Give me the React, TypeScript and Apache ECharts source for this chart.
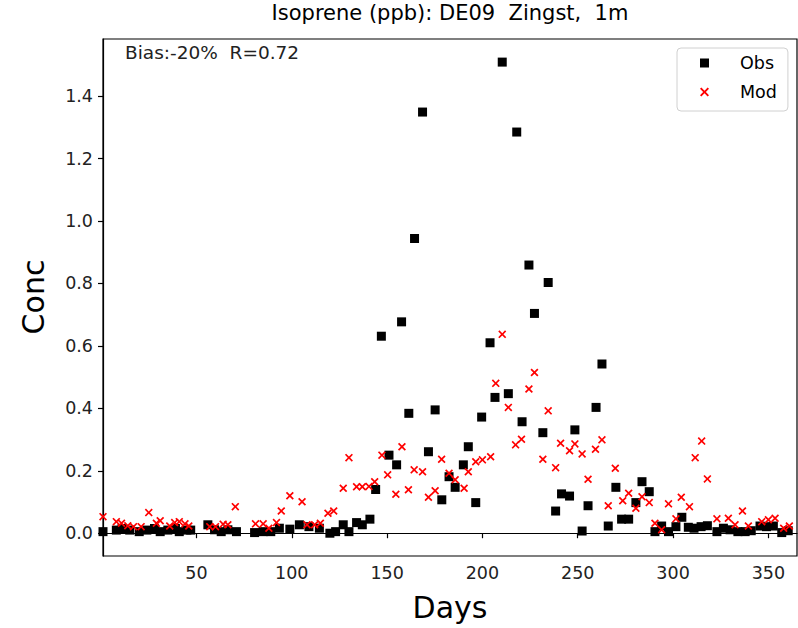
import React, { useEffect, useRef } from 'react';
import * as echarts from 'echarts';

const obsDays = [1, 8, 11, 15, 20, 24, 28, 31, 35, 39, 41, 45, 47,
  56, 59.5, 63, 66.5, 71, 80.5, 85, 89, 93.5, 99,
  104, 109, 114.5, 120, 123, 127, 130, 134, 137, 141, 144, 147, 151, 155, 157.6, 161.4, 164.4, 168.6,
  171.7, 175.2, 178.7, 182.5, 185.7, 190, 192.6, 196.5, 199.6, 204, 206.6, 210.4, 213.6, 218, 220.8,
  224.4, 227.3, 231.7, 234.5, 238.4, 241.5, 245.7, 248.5, 252.3, 255.4, 259.6, 262.7, 266, 270, 273,
  276.7, 280.5, 283.7, 287.5, 290.5, 294, 297.6, 301.5, 304.6, 308, 311, 314.7, 318, 323, 326.4, 329.9,
  334, 337.8, 341, 345.6, 349, 352.6, 357, 360.4];
const obsVals = [0.005, 0.01, 0.015, 0.01, 0.005, 0.01, 0.015, 0.005, 0.01, 0.015, 0.005, 0.01, 0.01,
  0.027, 0.011, 0.005, 0.011, 0.005, 0.002, 0.005, 0.005, 0.016, 0.013,
  0.027, 0.021, 0.016, 0.0, 0.005, 0.027, 0.005, 0.034, 0.027, 0.045, 0.14, 0.631, 0.25, 0.219, 0.677, 0.384, 0.944, 1.349,
  0.261, 0.395, 0.107, 0.181, 0.147, 0.219, 0.277, 0.098, 0.372, 0.61, 0.435, 1.509, 0.447, 1.285, 0.357,
  0.859, 0.704, 0.322, 0.803, 0.071, 0.126, 0.119, 0.331, 0.007, 0.088, 0.403, 0.542, 0.023, 0.147, 0.045,
  0.045, 0.098, 0.165, 0.133, 0.005, 0.023, 0.005, 0.021, 0.051, 0.019, 0.016, 0.021, 0.024, 0.005, 0.016, 0.011,
  0.005, 0.005, 0.008, 0.023, 0.021, 0.023, 0.002, 0.008];

const modDays = [1, 8, 10.7, 14, 17, 21, 25, 29, 31, 36, 38.6, 41, 44, 46,
  57, 60, 64, 66.5, 70.4, 81, 85, 88, 92, 94.5, 99,
  105.4, 108, 112, 115, 119, 122, 127, 130, 134, 137, 140.5, 143.5, 147.3, 150.3, 154.6, 157.8, 161.2,
  164.2, 168.6, 171.7, 175.2, 178.6, 182.5, 185.7, 190.4, 192.6, 196.5, 200, 204.3, 207, 210.4, 213.6,
  217.4, 220.5, 224.4, 227.3, 231.7, 234.5, 238.4, 241, 245.7, 248.5, 252.3, 255.4, 259.3, 262.7, 266,
  269.7, 273.6, 276.7, 280.5, 283.7, 287.5, 290.5, 294, 297.6, 301.5, 304.3, 308.6, 311.6, 315, 318,
  323, 329, 332.5, 336.4, 339.5, 346.5, 350, 353.5, 358, 361];
const modVals = [0.053, 0.037, 0.032, 0.024, 0.021, 0.021, 0.066, 0.032, 0.04, 0.023, 0.034, 0.037, 0.03, 0.023,
  0.021, 0.021, 0.029, 0.027, 0.085, 0.03, 0.03, 0.016, 0.034, 0.071, 0.12,
  0.101, 0.027, 0.027, 0.032, 0.064, 0.071, 0.144, 0.242, 0.149, 0.149, 0.15, 0.165, 0.25, 0.187, 0.125, 0.277, 0.139,
  0.203, 0.197, 0.115, 0.136, 0.237, 0.192, 0.171, 0.144, 0.197, 0.229, 0.235, 0.245, 0.48, 0.637, 0.403,
  0.283, 0.301, 0.462, 0.515, 0.237, 0.392, 0.21, 0.288, 0.264, 0.286, 0.254, 0.173, 0.269, 0.299, 0.088,
  0.208, 0.104, 0.128, 0.08, 0.117, 0.098, 0.032, 0.011, 0.094, 0.046, 0.115, 0.085, 0.242, 0.295, 0.174,
  0.046, 0.048, 0.027, 0.071, 0.023, 0.037, 0.043, 0.048, 0.016, 0.023];

const xTicks = [50, 100, 150, 200, 250, 300, 350];
const yTicks = [0, 0.2, 0.4, 0.6, 0.8, 1.0, 1.2, 1.4];

const titleText = 'Isoprene (ppb): DE09  Zingst,  1m';
const statsText = 'Bias:-20%  R=0.72';

const FONT = 'DejaVu Sans';
const X_PATH = 'path://M1.5,0 L5,3.5 L8.5,0 L10,1.5 L6.5,5 L10,8.5 L8.5,10 L5,6.5 L1.5,10 L0,8.5 L3.5,5 L0,1.5 Z';

export default function App() {
  const ref = useRef<HTMLDivElement>(null);
  useEffect(() => {
    if (!ref.current) return;
    const chart = echarts.init(ref.current, null, { renderer: 'svg' });
    const obsData = obsDays.map((d, i) => [d, obsVals[i]]);
    const modData = modDays.map((d, i) => [d, modVals[i]]);
    chart.setOption({
      animation: false,
      backgroundColor: '#fff',
      grid: {
        left: 103, right: 1, top: 39, bottom: 72,
        show: true, borderColor: '#000', borderWidth: 1.2, backgroundColor: 'transparent',
      },
      legend: {
        orient: 'vertical',
        left: 677, top: 48,
        itemWidth: 9, itemHeight: 9, itemGap: 9,
        padding: [5, 11, 9, 23],
        borderColor: '#d0d0d0', borderWidth: 1, borderRadius: 4,
        backgroundColor: 'rgba(255,255,255,0.8)',
        textStyle: { fontFamily: FONT, fontSize: 17.5, color: '#000', lineHeight: 20, padding: [0, 0, 0, 26] },
        data: [
          { name: 'Obs', icon: 'rect', itemStyle: { color: '#000', opacity: 1 } },
          { name: 'Mod', icon: X_PATH, itemStyle: { color: '#ff0000', opacity: 1 } },
        ],
      },
      xAxis: {
        type: 'value', min: 1, max: 365,
        axisLine: { show: true, lineStyle: { color: '#000', width: 1.2 } },
        axisTick: { show: true, inside: false, length: 5, lineStyle: { color: '#000', width: 1.2 }, customValues: xTicks },
        axisLabel: { fontFamily: FONT, fontSize: 17.5, color: '#222', margin: 8, customValues: xTicks },
        splitLine: { show: false },
      },
      yAxis: {
        type: 'value', min: -0.073, max: 1.583,
        axisLine: { show: true, lineStyle: { color: '#000', width: 1.2 } },
        axisTick: { show: true, inside: false, length: 5, lineStyle: { color: '#000', width: 1.2 }, customValues: yTicks },
        axisLabel: {
          fontFamily: FONT, fontSize: 17.5, color: '#222', margin: 10, customValues: yTicks,
          formatter: (v: number) => v.toFixed(1),
        },
        splitLine: { show: false },
      },
      graphic: [
        { type: 'text', x: 450, y: 13, style: { text: titleText, font: `21px "${FONT}"`, fill: '#000', textAlign: 'center', textVerticalAlign: 'middle' } },
        { type: 'text', x: 125, y: 52, style: { text: statsText, font: `18.5px "${FONT}"`, fill: '#222', textAlign: 'left', textVerticalAlign: 'middle' } },
        { type: 'text', x: 450, y: 607, style: { text: 'Days', font: `30px "${FONT}"`, fill: '#000', textAlign: 'center', textVerticalAlign: 'middle' } },
        { type: 'text', x: 33, y: 297, rotation: Math.PI / 2, style: { text: 'Conc', font: `30px "${FONT}"`, fill: '#000', textAlign: 'center', textVerticalAlign: 'middle' } },
      ],
      series: [
        {
          name: 'Obs', type: 'scatter', data: obsData, symbol: 'rect', symbolSize: 9,
          itemStyle: { color: '#000', opacity: 1 }, emphasis: { disabled: true },
        },
        {
          name: 'Mod', type: 'scatter', data: modData, symbol: X_PATH, symbolSize: 8,
          itemStyle: { color: '#ff0000', opacity: 1 }, emphasis: { disabled: true },
        },
      ],
    });
    return () => chart.dispose();
  }, []);
  return <div ref={ref} style={{ position: 'fixed', left: 0, top: 0, width: 798, height: 628 }} />;
}
